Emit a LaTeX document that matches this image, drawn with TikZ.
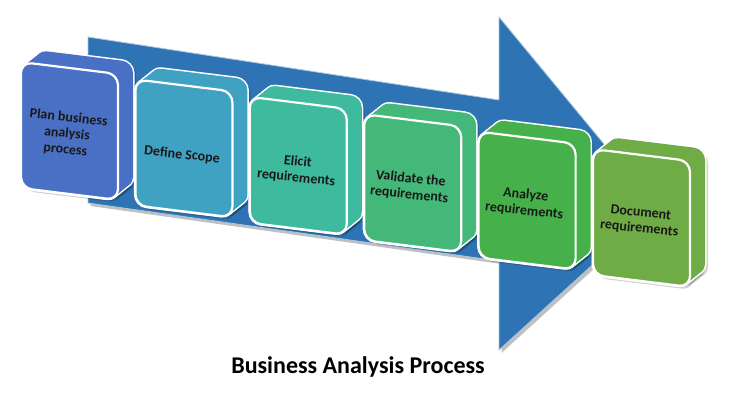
\documentclass[tikz,border=0pt]{standalone}
\usepackage{fontspec}
\setmainfont{Carlito}
\usetikzlibrary{shadows}
\definecolor{arrowblue}{HTML}{2E74B5}
\definecolor{cA}{HTML}{4A70C6}
\definecolor{cB}{HTML}{40A2C2}
\definecolor{cC}{HTML}{3EBB9F}
\definecolor{cD}{HTML}{43B878}
\definecolor{cE}{HTML}{46B14B}
\definecolor{cF}{HTML}{70AC46}
\tikzset{
  lbl/.style={font=\bfseries\fontsize{14}{16}\selectfont, align=center, text=black!90, rotate=-6, inner sep=0pt},
  bigarrow/.style={fill=arrowblue, draw=white!60!arrowblue, line width=0.8pt,
    drop shadow={shadow xshift=2.5pt, shadow yshift=-3pt, opacity=0.35, fill=black!70}},
}
\begin{document}
\begin{tikzpicture}[x=1pt,y=-1pt]
\useasboundingbox (0,0) rectangle (741,400);
\fill[white] (0,0) rectangle (741,400);
% big arrow
\draw[bigarrow] (88,37) -- (499,100) -- (499,17) -- (656,207) -- (499,350) -- (499,261) -- (88,203) -- cycle;
% boxes
\foreach \i/\c in {0/cA,1/cB,2/cC,3/cD,4/cE,5/cF}{
  \pgfmathsetmacro\X{21+114.4*\i}
  \pgfmathsetmacro\Y{62+17.4*\i}
  \begin{scope}[shift={(\X,\Y)}]
    \foreach \t in {0,0.25,...,1}
      \fill[black,opacity=0.18,rounded corners=11pt] (15*\t+3,-12*\t+3) -- ++(97,12) -- ++(0,126) -- ++(-97,-12) -- cycle;
    \foreach \t in {0,0.125,...,1}
      \draw[white,line width=3pt,rounded corners=11pt] (15*\t,-12*\t) -- ++(97,12) -- ++(0,126) -- ++(-97,-12) -- cycle;
    \foreach \t in {0,0.125,...,1}
      \fill[\c,rounded corners=11pt] (15*\t,-12*\t) -- ++(97,12) -- ++(0,126) -- ++(-97,-12) -- cycle;
    \draw[white,line width=2.2pt,fill=\c,rounded corners=11pt] (0,0) -- ++(97,12) -- ++(0,126) -- ++(-97,-12) -- cycle;
  \end{scope}
}
% labels
\node[lbl] (t1) at (67,134) {Plan business\\analysis\\process};
\node[lbl] (t2) at (182,155) {Define Scope};
\node[lbl] (t3) at (297,170) {Elicit\\requirements};
\node[lbl] (t4) at (410,187) {Validate the\\requirements};
\node[lbl] (t5) at (525,203) {Analyze\\requirements};
\node[lbl] (t6) at (640,221) {Document\\requirements};
% title
\node[font=\bfseries\fontsize{24}{28}\selectfont] (title) at (358,367) {Business Analysis Process};
\end{tikzpicture}
\end{document}
